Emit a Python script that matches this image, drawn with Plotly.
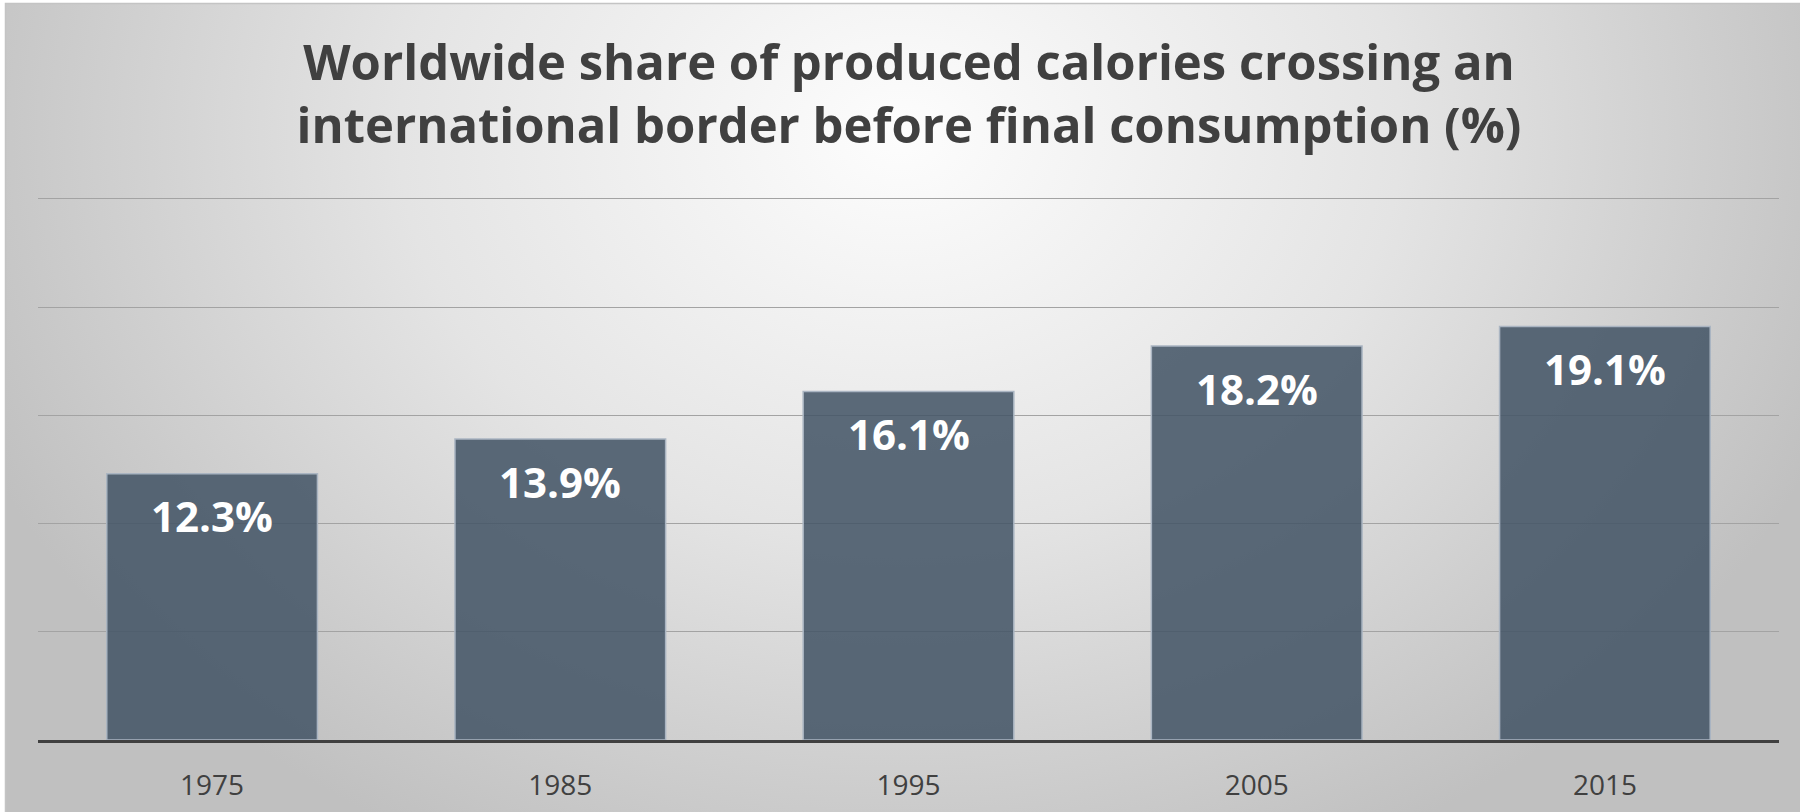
import base64
import plotly.graph_objects as go

years = ["1975", "1985", "1995", "2005", "2015"]
shares = [12.3, 13.9, 16.1, 18.2, 19.1]
title_lines = ["Worldwide share of produced calories crossing an",
               "international border before final consumption (%)"]

W, H = 1800, 812
ML, MR, MT, MB = 38, 21, 188, 72
YMAX = 25.5
pw, ph = W - ML - MR, H - MT - MB

svg = f'''<svg xmlns="http://www.w3.org/2000/svg" width="{W}" height="{H}" viewBox="0 0 {W} {H}">
<defs><radialGradient id="g" gradientUnits="userSpaceOnUse" cx="900" cy="135" r="1000"
 gradientTransform="translate(900 135) scale(1 0.8) translate(-900 -135)">
<stop offset="0" stop-color="#fdfdfd"/><stop offset="0.5" stop-color="#e4e4e4"/><stop offset="1" stop-color="#c0c0c0"/>
</radialGradient></defs>
<rect x="0" y="0" width="{W}" height="{H}" fill="#ffffff"/>
<rect x="5.5" y="3.5" width="{W}" height="{H}" fill="url(#g)" stroke="#c4c4c4" stroke-width="1.5"/>
</svg>'''
src = "data:image/svg+xml;base64," + base64.b64encode(svg.encode()).decode()

fig = go.Figure()
fig.add_trace(go.Bar(
    x=years, y=shares,
    marker=dict(color="rgba(68,85,102,0.87)", line=dict(color="#aab5c2", width=1.5)),
    hoverinfo="skip",
))

for i, v in enumerate(shares):
    fig.add_annotation(x=i, y=v, xref="x", yref="y", text=f"{v}%", showarrow=False,
                       yanchor="middle", yshift=-42,
                       font=dict(family="Open Sans", size=42, color="white", weight="bold"))

fig.update_layout(
    width=W, height=H,
    margin=dict(l=ML, r=MR, t=MT, b=MB, autoexpand=False),
    paper_bgcolor="#c8c8c8",
    plot_bgcolor="rgba(0,0,0,0)",
    bargap=0.395,
    showlegend=False,
    title=dict(text="<br>".join(title_lines), x=909 / W, xanchor="center",
               y=1 - 79.5 / H, yanchor="middle", yref="container",
               font=dict(family="Open Sans", size=49, color="#404040", weight="bold")),
    images=[dict(source=src, xref="paper", yref="paper",
                 x=-ML / pw, y=1 + MT / ph, sizex=W / pw, sizey=H / ph,
                 xanchor="left", yanchor="top", sizing="stretch", layer="below")],
    xaxis=dict(type="category", range=[-0.5, len(years) - 0.5], fixedrange=True,
               automargin=False,
               showline=True, linecolor="#404040", linewidth=3,
               ticks="outside", ticklen=18, tickcolor="rgba(0,0,0,0)",
               tickfont=dict(family="Open Sans", size=28, color="#404040"),
               showgrid=False),
    yaxis=dict(range=[0, YMAX], tickvals=[5, 10, 15, 20, 25], showgrid=True,
               automargin=False, fixedrange=True,
               gridcolor="#a3a3a3", gridwidth=1.2,
               showticklabels=False, zeroline=False, showline=False),
)

fig.write_html("out.html", config={"displayModeBar": False},
               post_script="document.body.style.margin='0';")
